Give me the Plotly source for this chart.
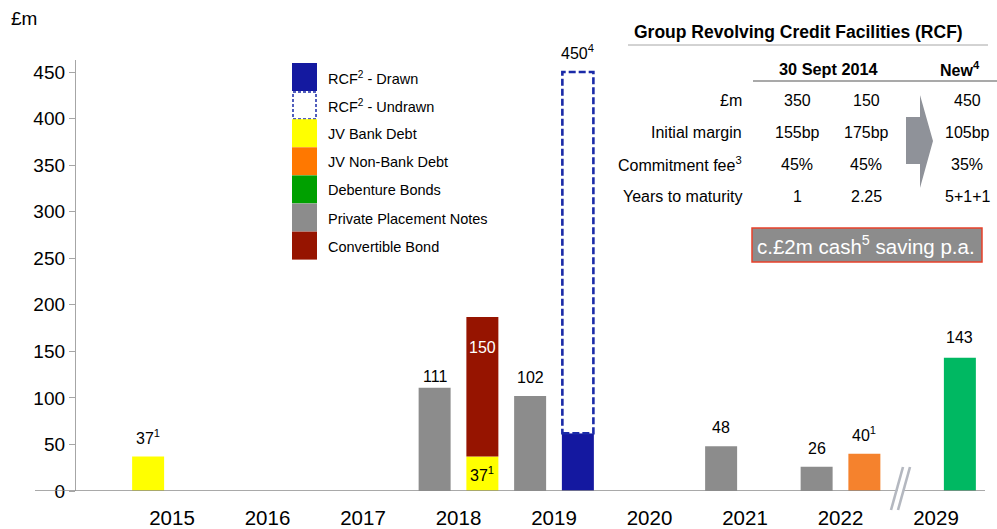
import plotly.graph_objects as go

# ---- debt maturity profile (£m) ----
years = ["2015", "2016", "2017", "2018", "2019", "2020", "2021", "2022", "2029"]

ppn_years = ["2018", "2019", "2021", "2022"]
ppn_values = [111, 102, 48, 26]

jv_bank_years = ["2015", "2018"]
jv_bank_values = [37, 37]

jv_nonbank_years = ["2022"]
jv_nonbank_values = [40]

convertible_years = ["2018"]
convertible_values = [150]

debenture_years = ["2029"]
debenture_values = [143]

rcf_years = ["2019"]
rcf_drawn = [62]
rcf_facility = [450]

# ---- RCF comparison table ----
rcf_rows = ["£m", "Initial margin", "Commitment fee<sup>3</sup>", "Years to maturity"]
rcf_2014_a = ["350", "155bp", "45%", "1"]
rcf_2014_b = ["150", "175bp", "45%", "2.25"]
rcf_new = ["450", "105bp", "35%", "5+1+1"]

FONT = "Liberation Sans, Arial, Helvetica, sans-serif"

# plot-area geometry in page pixels
L, R, T, B = 76, 985, 60, 491
W, H = R - L, B - T
Y_PER_PX = 450 / (491 - 72)
X_ZERO_PX, X_UNIT_PX = 172, 95.5


def px(x):
    return (x - L) / W


def py(y):
    return (B - y) / H


idx = {y: i for i, y in enumerate(years)}
LEFT, RIGHT = -0.25, 0.25
BAR_W = 0.335

C_GREY = "#8c8c8c"
C_YELLOW = "#ffff00"
C_RED = "#961400"
C_BLUE = "#1418a0"
C_ORANGE = "#f5822d"
C_GREEN = "#00b862"

fig = go.Figure()


def add_bars(yrs, vals, offsets, color, base=None):
    fig.add_trace(go.Bar(
        x=[idx[y] + o for y, o in zip(yrs, offsets)],
        y=vals,
        base=base,
        width=BAR_W,
        marker=dict(color=color, line=dict(width=0)),
        showlegend=False,
        hoverinfo="y",
    ))


add_bars(ppn_years, ppn_values, [LEFT] * len(ppn_years), C_GREY)
add_bars(jv_bank_years, jv_bank_values, [LEFT, RIGHT], C_YELLOW)
add_bars(convertible_years, convertible_values, [RIGHT], C_RED,
         base=[jv_bank_values[jv_bank_years.index(y)] for y in convertible_years])
add_bars(rcf_years, rcf_drawn, [RIGHT], C_BLUE)
add_bars(jv_nonbank_years, jv_nonbank_values, [RIGHT], C_ORANGE)
add_bars(debenture_years, debenture_values, [RIGHT], C_GREEN)

shapes = []
annotations = []

# undrawn part of the RCF: dashed outline from the drawn amount up to the facility size
for y, d, f in zip(rcf_years, rcf_drawn, rcf_facility):
    xc = idx[y] + RIGHT
    shapes.append(dict(type="rect", xref="x", yref="y",
                       x0=xc - BAR_W / 2 + 0.005, x1=xc + BAR_W / 2 - 0.005, y0=d, y1=f,
                       fillcolor="white",
                       line=dict(color="#1a2aa8", width=2.6, dash="7px,3px"),
                       layer="above"))


def value_label(x, y, text, color="#000", yanchor="bottom", yshift=6, size=16):
    annotations.append(dict(x=x, y=y, xref="x", yref="y", text=text, showarrow=False,
                            yanchor=yanchor, yshift=yshift,
                            font=dict(family=FONT, size=size, color=color)))


value_label(idx["2015"] + LEFT, jv_bank_values[0], f"{jv_bank_values[0]}<sup>1</sup>", yshift=8)
for y, v in zip(ppn_years, ppn_values):
    value_label(idx[y] + LEFT, v, str(v), yshift=8 if v != 111 else 1)
# 2018 stacked bar: values written inside the segments
value_label(idx["2018"] + RIGHT, jv_bank_values[1] / 2, f"{jv_bank_values[1]}<sup>1</sup>",
            yanchor="middle", yshift=0)
value_label(idx["2018"] + RIGHT, jv_bank_values[1] + convertible_values[0], str(convertible_values[0]),
            color="white", yanchor="top", yshift=-20)
value_label(idx["2019"] + RIGHT, rcf_facility[0], f"{rcf_facility[0]}<sup>4</sup>", yshift=8)
value_label(idx["2022"] + RIGHT, jv_nonbank_values[0], f"{jv_nonbank_values[0]}<sup>1</sup>", yshift=8)
value_label(idx["2029"] + RIGHT, debenture_values[0], str(debenture_values[0]), yshift=10)

# x-axis line extended to the left of the value axis
shapes.append(dict(type="line", xref="paper", yref="y", x0=px(35), x1=px(985), y0=0, y1=0,
                   line=dict(color="#8c8c8c", width=1.3), layer="above"))

# axis break marks between 2022 and 2029
shapes.append(dict(type="line", xref="paper", yref="paper", x0=px(895), y0=py(510), x1=px(907), y1=py(467),
                   line=dict(color="white", width=5), layer="above"))
for dx in (0, 7):
    shapes.append(dict(type="line", xref="paper", yref="paper",
                       x0=px(891 + dx), y0=py(510), x1=px(903 + dx), y1=py(467),
                       line=dict(color="#b4b8c0", width=2.6), layer="above"))

# unit label
annotations.append(dict(x=px(9), y=py(19), xref="paper", yref="paper", text="£m", showarrow=False,
                        xanchor="left", yanchor="middle", font=dict(family=FONT, size=19, color="#000")))

# ---- legend (drawn as swatches + text) ----
legend_items = [
    ("RCF<sup>2</sup> - Drawn", "#1419a0", None),
    ("RCF<sup>2</sup> - Undrawn", "white", "dash"),
    ("JV Bank Debt", "#ffff00", None),
    ("JV Non-Bank Debt", "#ff7800", None),
    ("Debenture Bonds", "#00a000", None),
    ("Private Placement Notes", "#8c8c8c", None),
    ("Convertible Bond", "#961400", None),
]
LEG_TOP, LEG_STEP = 63, 28.1
for i, (label, color, style) in enumerate(legend_items):
    y0 = LEG_TOP + i * LEG_STEP
    if style == "dash":
        shapes.append(dict(type="rect", xref="paper", yref="paper",
                           x0=px(293), x1=px(316), y0=py(y0 + 28), y1=py(y0 + 1),
                           fillcolor="white", line=dict(color="#1a2aa8", width=1.5, dash="3px,2px")))
    else:
        shapes.append(dict(type="rect", xref="paper", yref="paper",
                           x0=px(292), x1=px(317), y0=py(y0 + 28), y1=py(y0),
                           fillcolor=color, line=dict(width=0)))
    annotations.append(dict(x=px(326), y=py(y0 + 15), xref="paper", yref="paper", text=label,
                            showarrow=False, xanchor="left", yanchor="middle",
                            font=dict(family=FONT, size=14.5, color="#000")))

# ---- RCF table ----
annotations.append(dict(x=px(798), y=py(32), xref="paper", yref="paper",
                        text="<b>Group Revolving Credit Facilities (RCF)</b>", showarrow=False,
                        xanchor="center", yanchor="middle",
                        font=dict(family=FONT, size=17.5, color="#000")))
shapes.append(dict(type="line", xref="paper", yref="paper", x0=px(628), x1=px(988), y0=py(45), y1=py(45),
                   line=dict(color="#a6a6a6", width=1)))
annotations.append(dict(x=px(828), y=py(69), xref="paper", yref="paper", text="<b>30 Sept 2014</b>",
                        showarrow=False, xanchor="center", yanchor="middle",
                        font=dict(family=FONT, size=16.3, color="#000")))
annotations.append(dict(x=px(960), y=py(69), xref="paper", yref="paper", text="<b>New<sup>4</sup></b>",
                        showarrow=False, xanchor="center", yanchor="middle",
                        font=dict(family=FONT, size=16, color="#000")))
shapes.append(dict(type="line", xref="paper", yref="paper", x0=px(753), x1=px(997), y0=py(81), y1=py(81),
                   line=dict(color="#8c8c8c", width=1.5)))

row_y = [101, 132, 164, 197]
for ry, lab, a, b, n in zip(row_y, rcf_rows, rcf_2014_a, rcf_2014_b, rcf_new):
    annotations.append(dict(x=px(744), y=py(ry), xref="paper", yref="paper", text=lab, showarrow=False,
                            xanchor="right", yanchor="middle", font=dict(family=FONT, size=16, color="#000")))
    for cx, txt in ((797, a), (866, b), (967, n)):
        annotations.append(dict(x=px(cx), y=py(ry), xref="paper", yref="paper", text=txt, showarrow=False,
                                xanchor="center", yanchor="middle",
                                font=dict(family=FONT, size=16, color="#000")))

# arrow between the old and new facilities
arrow_pts = [(906, 117), (920, 117), (920, 95), (933, 141), (920, 188), (920, 164), (906, 164)]
path = "M " + " L ".join(f"{px(x):.5f},{py(y):.5f}" for x, y in arrow_pts) + " Z"
shapes.append(dict(type="path", xref="paper", yref="paper", path=path,
                   fillcolor="#8f9299", line=dict(width=0)))

# savings call-out
shapes.append(dict(type="rect", xref="paper", yref="paper", x0=px(752), x1=px(982), y0=py(262), y1=py(228),
                   fillcolor="#8c8c8c", line=dict(color="#e8402a", width=1.5)))
annotations.append(dict(x=px(866), y=py(245), xref="paper", yref="paper",
                        text="c.£2m cash<sup>5</sup> saving p.a.", showarrow=False,
                        xanchor="center", yanchor="middle", font=dict(family=FONT, size=20.5, color="white")))

fig.update_layout(
    width=997, height=529,
    margin=dict(l=L, r=997 - R, t=T, b=529 - B, pad=0, autoexpand=False),
    paper_bgcolor="white", plot_bgcolor="white",
    barmode="overlay",
    showlegend=False,
    font=dict(family=FONT, color="#000"),
    xaxis=dict(
        range=[(L - X_ZERO_PX) / X_UNIT_PX, (R - X_ZERO_PX) / X_UNIT_PX],
        tickmode="array", tickvals=list(range(len(years))), ticktext=years,
        ticks="", showgrid=False, zeroline=False, showline=False,
        tickfont=dict(family=FONT, size=20.5, color="#000"),
        ticklabelstandoff=12,
        automargin=False,
        fixedrange=True,
    ),
    yaxis=dict(
        range=[0, H * Y_PER_PX],
        tickmode="array", tickvals=list(range(0, 451, 50)),
        ticks="outside", ticklen=6, tickcolor="#a6a6a6", tickwidth=1,
        showline=True, linecolor="#a6a6a6", linewidth=1.3,
        showgrid=False, zeroline=False,
        tickfont=dict(family=FONT, size=19, color="#000"),
        automargin=False,
        fixedrange=True,
    ),
    shapes=shapes,
    annotations=annotations,
)

fig.write_html("out.html")
